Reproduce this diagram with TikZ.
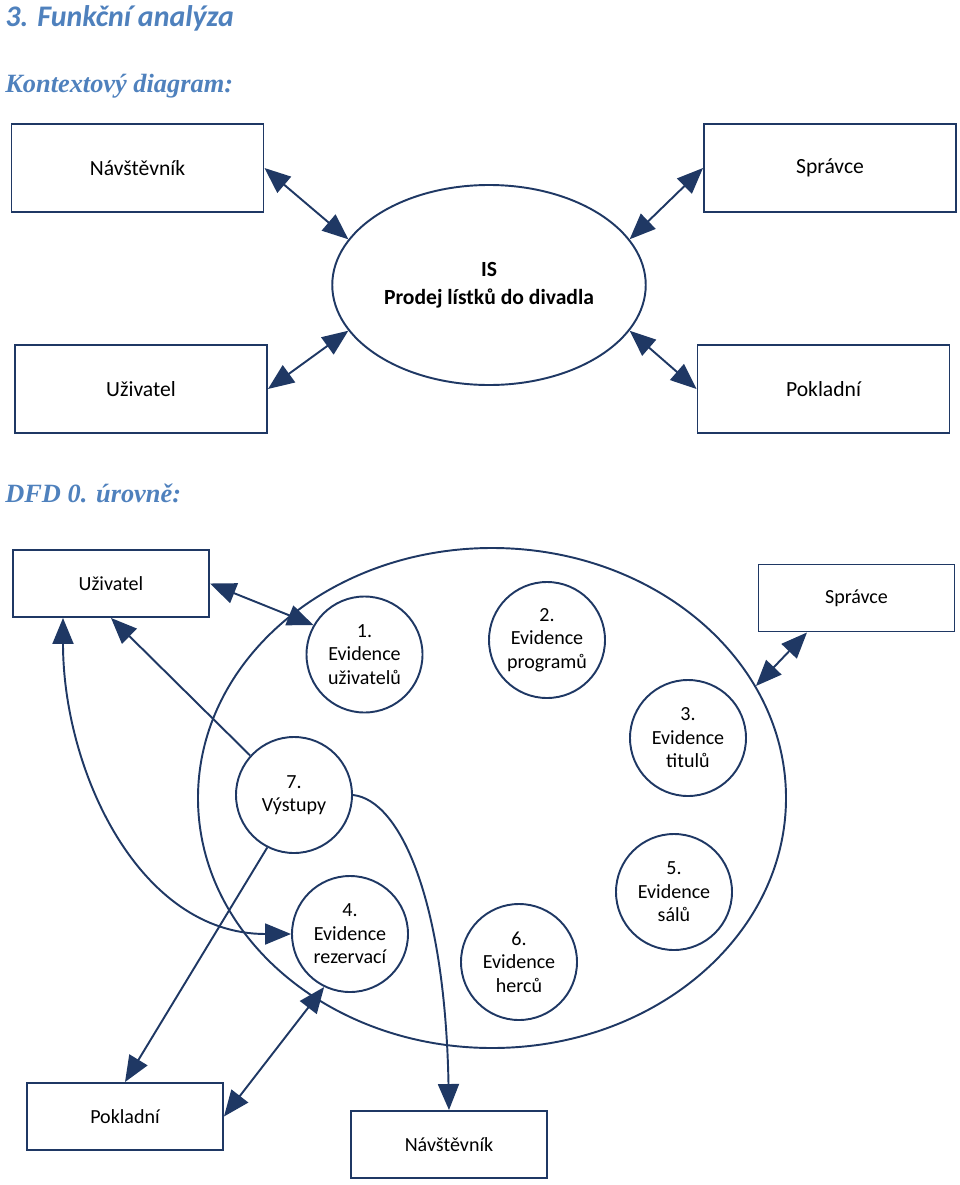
\documentclass[tikz,border=0pt]{standalone}
\usepackage{fontspec}
\setmainfont{Carlito}
\newfontfamily\headserif{Liberation Serif}
\usetikzlibrary{arrows.meta,shapes.geometric}
\definecolor{navy}{RGB}{31,56,100}
\definecolor{headblue}{RGB}{79,129,189}

\begin{document}
\begin{tikzpicture}[x=0.2mm,y=0.2mm,
    bigbox/.style={draw=navy,line width=1.1pt,inner sep=0pt,
                   minimum width=50.4mm,minimum height=17.6mm,
                   font=\fontsize{12.3}{15}\selectfont},
    smallbox/.style={draw=navy,line width=1.1pt,inner sep=0pt,
                     minimum width=39.2mm,minimum height=13.4mm,
                     font=\fontsize{11.4}{13}\selectfont},
    process/.style={circle,draw=navy,line width=1.1pt,inner sep=0pt,
                    minimum size=23.2mm,align=center,
                    font=\fontsize{11.4}{13.4}\selectfont},
    flow/.style={draw=navy,line width=1.1pt,
                 -{Triangle[length=5.2mm,width=4.2mm]}},
    both/.style={flow,{Triangle[length=5.2mm,width=4.2mm]}-{Triangle[length=5.2mm,width=4.2mm]}},
    heading/.style={anchor=west,inner sep=0pt,text=headblue}
  ]
    \useasboundingbox (0,0) rectangle (960,-1185);

    \node[heading,font=\fontsize{17}{20}\selectfont\bfseries\itshape] (title) at (5,-18) {3. Funkční analýza};
    \node[heading,font=\headserif\fontsize{15}{18}\selectfont\bfseries\itshape] (ctxhead) at (5,-86) {Kontextový diagram:};
    \node[heading,font=\headserif\fontsize{15}{18}\selectfont\bfseries\itshape] (dfdhead) at (5,-493) {DFD 0. úrovně:};

    \node[bigbox] (nav) at (137.5,-168) {Návštěvník};
    \node[bigbox] (spr) at (830,-168) {Správce};
    \node[bigbox] (uzi) at (141,-389) {Uživatel};
    \node[bigbox] (pok) at (823.5,-389) {Pokladní};
    \node[ellipse,draw=navy,line width=1.1pt,minimum width=62.6mm,minimum height=40mm,
          align=center,font=\fontsize{12.3}{16}\selectfont\bfseries] (is) at (489,-285)
      {IS\\Prodej lístků do divadla};

    \draw[both] (nav.east) -- (is.162);
    \draw[both] (spr.west) -- (is.18);
    \draw[both] (uzi.east) -- (is.198);
    \draw[both] (pok.west) -- (is.-18);

    \node[ellipse,draw=navy,line width=1.1pt,minimum width=117.6mm,minimum height=100mm] (sys) at (492,-798) {};
    \node[smallbox] (uzi2) at (111,-583.5) {Uživatel};
    \node[smallbox] (spr2) at (856.5,-598) {Správce};
    \node[smallbox] (pok2) at (125,-1116.5) {Pokladní};
    \node[smallbox] (nav2) at (449,-1144.5) {Návštěvník};

    \node[process] (p1) at (364.5,-654.5) {1.\\Evidence\\uživatelů};
    \node[process] (p2) at (547,-640) {2.\\Evidence\\programů};
    \node[process] (p3) at (688,-738) {3.\\Evidence\\titulů};
    \node[process] (p4) at (350,-934) {4.\\Evidence\\rezervací};
    \node[process] (p5) at (674,-892) {5.\\Evidence\\sálů};
    \node[process] (p6) at (519,-962) {6.\\Evidence\\herců};
    \node[process] (p7) at (294,-795) {7.\\Výstupy};

    \draw[both] (uzi2.east) -- (p1.150);
    \draw[flow] (p7.138) -- (uzi2.south);
    \draw[both] ([xshift=-9.6mm]uzi2.south) to[out=-90,in=180] (p4.west);
    \draw[flow] (p7.243) -- (pok2.north);
    \draw[both] (p4.244) -- (pok2.east);
    \draw[flow] (p7.east) .. controls +(47,-5) and +(-4,211) .. (nav2.north);
    \draw[both] ([xshift=-9.9mm]spr2.south) -- (sys.23);
  \end{tikzpicture}
\end{document}
